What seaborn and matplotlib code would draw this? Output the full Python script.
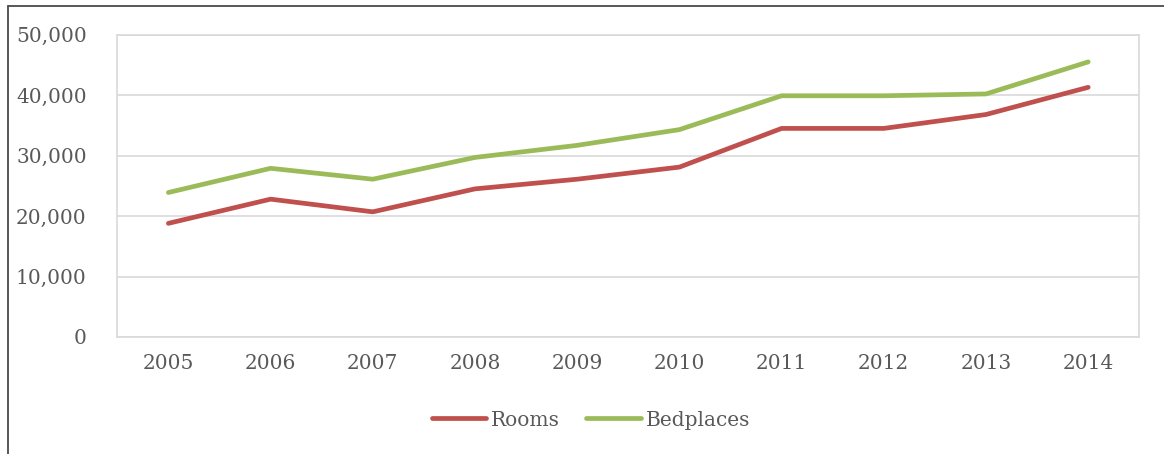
import matplotlib
matplotlib.use("Agg")
import matplotlib.pyplot as plt
from matplotlib.lines import Line2D
from matplotlib.ticker import FuncFormatter
import seaborn as sns
import pandas as pd

years = [2005, 2006, 2007, 2008, 2009, 2010, 2011, 2012, 2013, 2014]
rooms = [18800, 22800, 20700, 24500, 26100, 28100, 34500, 34500, 36800, 41300]
bedplaces = [23900, 27900, 26100, 29700, 31700, 34300, 39900, 39900, 40200, 45500]
series_names = ["Rooms", "Bedplaces"]
y_ticks = [0, 10000, 20000, 30000, 40000, 50000]

df = pd.DataFrame({
    "Year": years * 2,
    "Value": rooms + bedplaces,
    "Series": [series_names[0]] * len(years) + [series_names[1]] * len(years),
})

sns.set_theme(style="white")
plt.rcParams["font.family"] = ["DejaVu Serif"]
text_color = "#595959"
grid_color = "#D9D9D9"
palette = {"Rooms": "#C0504D", "Bedplaces": "#9BBB59"}
font_size = 14.5
line_width = 3.4

fig = plt.figure(figsize=(11.64, 4.54), dpi=100)
ax = fig.add_axes([117.3 / 1164, 1 - 337 / 454, (1139.3 - 117.3) / 1164, (337 - 34.7) / 454])

sns.lineplot(data=df, x="Year", y="Value", hue="Series", palette=palette,
             linewidth=line_width, ax=ax, legend=False)
for ln in ax.get_lines():
    ln.set_solid_capstyle("round")
    ln.set_solid_joinstyle("round")

ax.set_xlim(years[0] - 0.5, years[-1] + 0.5)
ax.set_ylim(y_ticks[0], y_ticks[-1])
ax.set_xticks(years)
ax.set_yticks(y_ticks)
ax.yaxis.set_major_formatter(FuncFormatter(lambda v, p: f"{int(v):,}"))
ax.set_xlabel("")
ax.set_ylabel("")

ax.grid(axis="y", color=grid_color, linewidth=1.2)
ax.set_axisbelow(True)
for side in ax.spines.values():
    side.set_visible(True)
    side.set_color(grid_color)
    side.set_linewidth(1.2)

ax.tick_params(axis="both", length=0, labelsize=font_size, labelcolor=text_color)
ax.tick_params(axis="y", pad=22)
ax.tick_params(axis="x", pad=12)

handles = [Line2D([0], [0], color=palette[n], linewidth=line_width, solid_capstyle="round")
           for n in series_names]
leg = fig.legend(handles, series_names, loc="center", bbox_to_anchor=(591 / 1164, 1 - 420 / 454),
                 ncol=2, frameon=False, fontsize=font_size, handlelength=2.7,
                 handletextpad=0.25, columnspacing=1.3)
for t in leg.get_texts():
    t.set_color(text_color)

# outer chart frame (left and top edges)
fig.add_artist(Line2D([7.5 / 1164, 7.5 / 1164], [0, 1 - 5.5 / 454], color="#4A4A4A",
                      linewidth=1.3, transform=fig.transFigure))
fig.add_artist(Line2D([7.5 / 1164, 1], [1 - 5.5 / 454, 1 - 5.5 / 454], color="#4A4A4A",
                      linewidth=1.3, transform=fig.transFigure))

fig.savefig("out.png", dpi=100, facecolor="white")
